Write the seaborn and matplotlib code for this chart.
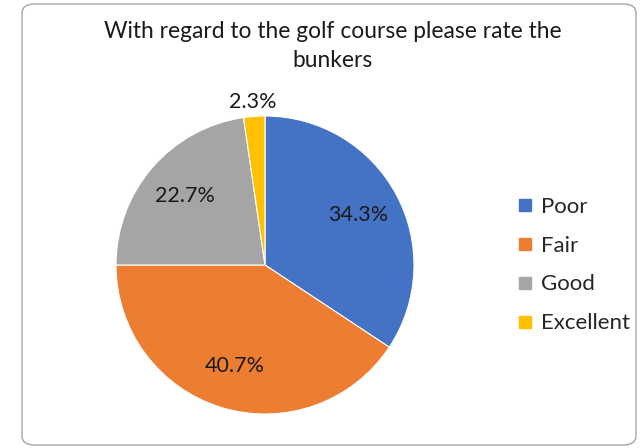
import matplotlib
matplotlib.use("Agg")
import matplotlib.pyplot as plt
from matplotlib.lines import Line2D
from matplotlib.patches import FancyBboxPatch
import numpy as np
import seaborn as sns

categories = ["Poor", "Fair", "Good", "Excellent"]
shares = [34.3, 40.7, 22.7, 2.3]
colors = ["#4472C4", "#ED7D31", "#A5A5A5", "#FFC000"]
title = "With regard to the golf course please rate the\nbunkers"

sns.set_theme(style="white")
plt.rcParams["font.family"] = ["Lato", "DejaVu Sans"]

W, H = 641, 448
fig = plt.figure(figsize=(W / 100, H / 100), dpi=100)

# rounded chart-area frame, kept behind everything else
frame = FancyBboxPatch((22 / W, 3 / H), 614 / W, 441 / H,
                       boxstyle="round,pad=0,rounding_size=0.02",
                       transform=fig.transFigure, facecolor="white",
                       edgecolor="#A6A6A6", linewidth=1.0, zorder=-5)
fig.patches.append(frame)

fig.text(333 / W, 1 - 46 / H, title, ha="center", va="center",
         fontsize=16.4, color="#1a1a1a", linespacing=1.5)

cx, cy, r = 265, 265, 149
ax = fig.add_axes([(cx - r) / W, (H - cy - r) / H, 2 * r / W, 2 * r / H])
ax.patch.set_alpha(0)
wedges, texts, autotexts = ax.pie(
    shares, colors=colors, startangle=90, counterclock=False,
    autopct="%1.1f%%", pctdistance=0.71,
    wedgeprops=dict(linewidth=0.8, edgecolor="white"),
    textprops=dict(fontsize=15.5, color="#1a1a1a"))
ax.set_xlim(-1, 1)
ax.set_ylim(-1, 1)
ax.set_aspect("equal")

# the thin slice gets its label outside the pie
w = wedges[-1]
mid = np.deg2rad((w.theta1 + w.theta2) / 2)
autotexts[-1].set_position((1.1 * np.cos(mid), 1.1 * np.sin(mid)))

handles = [Line2D([], [], marker="s", linestyle="none", markersize=9,
                  markerfacecolor=c, markeredgecolor=c) for c in colors]
fig.legend(handles, categories, loc="center left",
           bbox_to_anchor=(514 / W, 1 - 265 / H), frameon=False,
           fontsize=16, handletextpad=0.2, labelspacing=0.85,
           handlelength=1.0, borderaxespad=0, borderpad=0)

fig.savefig("out.png", dpi=100)
